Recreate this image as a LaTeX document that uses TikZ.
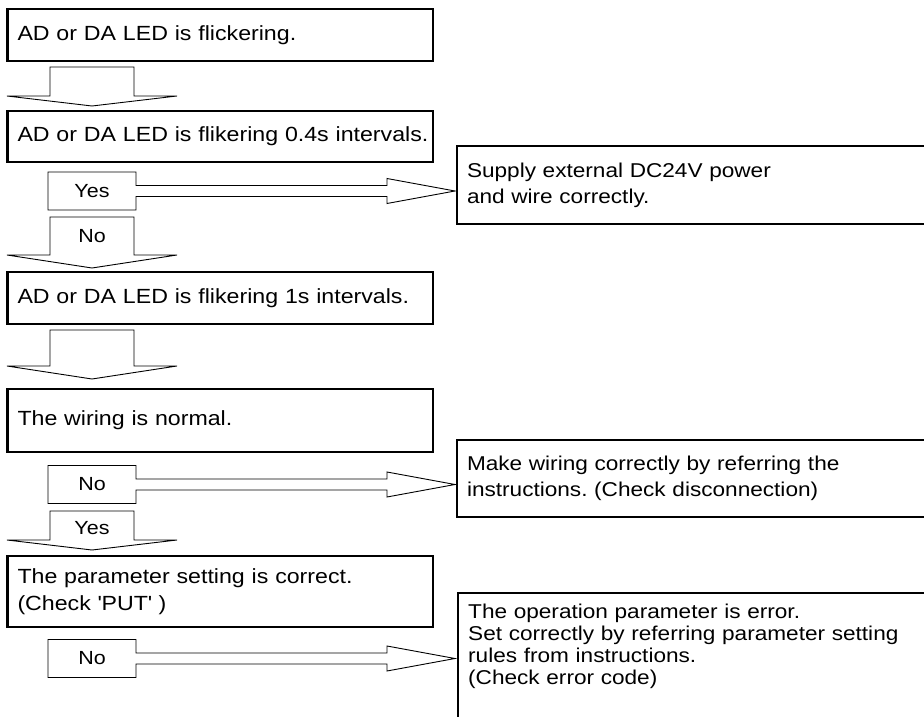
\documentclass[tikz,border=0pt]{standalone}
\usepackage{fontspec}
\setmainfont[FakeStretch=1.13]{Liberation Sans}
\frenchspacing
\newcommand\blockdownarrow[3]{\draw[blk] (50,#1) -- (50,#2) -- (7,#2) -- (92,#3) -- (177,#2) -- (134,#2) -- (134,#1) -- cycle;}
\newcommand\blocksidearrow[1]{\draw[blk] (136,{#1-5.5}) -- (387,{#1-5.5}) -- (387,{#1-12.5}) -- (455,#1) -- (387,{#1+12.5}) -- (387,{#1+5.5}) -- (136,{#1+5.5}) -- (136,{#1+19}) -- (48,{#1+19}) -- (48,{#1-19}) -- (136,{#1-19}) -- cycle;}
\begin{document}
\begin{tikzpicture}[x=1pt,y=-1pt,
  tbox/.style={draw, line width=2.2pt, fill=white, inner xsep=10pt, inner ysep=0pt,
     align=left, text width=405.5pt, font=\fontsize{20.5}{27}\selectfont\frenchspacing},
  rbox/.style={draw, line width=2.2pt, fill=white, inner xsep=10pt, inner ysep=0pt,
     align=left, text width=503pt, font=\fontsize{20}{26}\selectfont\frenchspacing},
  rtext/.style={inner sep=0pt, align=left, text width=480pt, font=\fontsize{20}{22}\selectfont\frenchspacing},
  blk/.style={draw, line width=0.9pt, fill=white, line join=miter},
  lbl/.style={inner sep=0pt, font=\fontsize{19}{22}\selectfont}]
\useasboundingbox (0,0) rectangle (924,717);
\clip (0,0) rectangle (924,717);
\fill[white] (0,0) rectangle (924,717);

% main boxes
\node[tbox, minimum height=52pt] (b1) at (220.25,35) {\mbox{AD or DA LED is flickering.}};
\node[tbox, minimum height=51pt] (b2) at (220.25,136.5) {\mbox{AD or DA LED is flikering 0.4s intervals.}};
\node[tbox, minimum height=52pt] (b3) at (220.25,298) {\mbox{AD or DA LED is flikering 1s intervals.}};
\node[tbox, minimum height=63pt] (b4) at (220.25,420.5) {\mbox{The wiring is normal.}};
\node[tbox, minimum height=71pt] (b5) at (220.25,591.5) {The parameter setting is correct.\\(Check \textquotesingle PUT\textquotesingle\ )\\[9pt]};

% right boxes
\node[rbox, minimum height=78pt] (r1) at (718.5,185) {Supply external DC24V power\\and wire correctly.\\[9pt]};
\node[rbox, minimum height=77pt] (r2) at (718.5,478.5) {Make wiring correctly by referring the\\instructions. (Check disconnection)};
\node[draw, line width=2.2pt, fill=white, anchor=north west, minimum width=523pt, minimum height=180pt, inner sep=0pt] (r3) at (457,592) {};
\node[rtext, anchor=north west] (r3t) at (468,604) {The operation parameter is error.\\Set correctly by referring parameter setting\\rules from instructions.\\(Check error code)};

% block arrows
\blockdownarrow{67}{96}{106}
\blockdownarrow{217}{255}{268}
\blockdownarrow{330}{366}{379}
\blockdownarrow{511}{540}{550}
\blocksidearrow{191}
\blocksidearrow{484.5}
\blocksidearrow{658.5}

% labels
\node[lbl] (l1) at (92,191) {Yes};
\node[lbl] (l2) at (92,236) {No};
\node[lbl] (l3) at (92,484.5) {No};
\node[lbl] (l4) at (92,528) {Yes};
\node[lbl] (l5) at (92,658.5) {No};
\end{tikzpicture}
\end{document}
